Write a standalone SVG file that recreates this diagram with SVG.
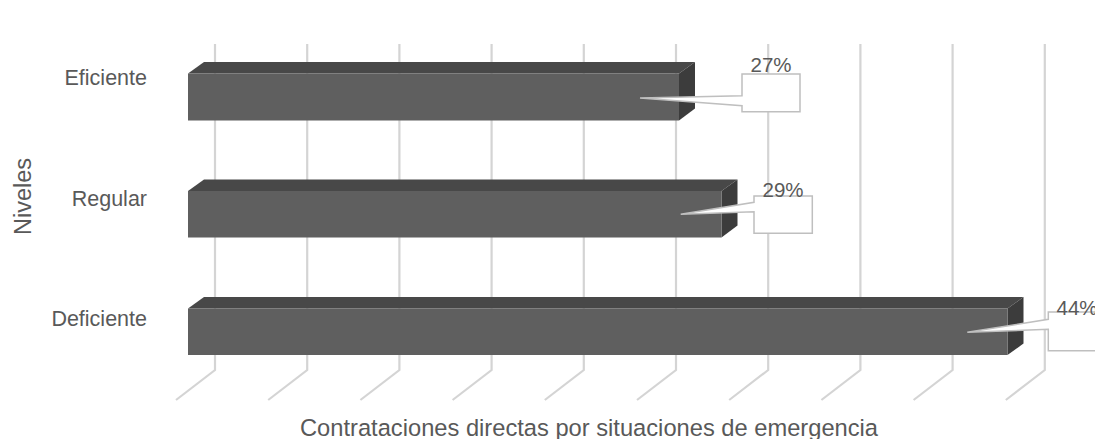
<svg xmlns="http://www.w3.org/2000/svg" width="1095" height="439" viewBox="0 0 1095 439">
<style>
.grid{fill:none;stroke:#d4d4d4;stroke-width:2.2}
.front{fill:#5f5f5f}
.top{fill:#484848}
.side{fill:#3c3c3c}
.callout{fill:#ffffff;stroke:#bfbfbf;stroke-width:1.5;stroke-linejoin:miter}
.lbl{font-family:"Liberation Sans",Arial,sans-serif;fill:#595959}
.tick{font-size:21.5px;text-anchor:end}
.pct{font-size:20.5px;text-anchor:middle}
</style>
<rect width="1095" height="439" fill="#ffffff"/>
<g id="gridlines">
<path class="grid" d="M215,44V370L176,400"/>
<path class="grid" d="M307.2,44V370L268.2,400"/>
<path class="grid" d="M399.4,44V370L360.4,400"/>
<path class="grid" d="M491.6,44V370L452.6,400"/>
<path class="grid" d="M583.8,44V370L544.8,400"/>
<path class="grid" d="M676,44V370L637,400"/>
<path class="grid" d="M768.2,44V370L729.2,400"/>
<path class="grid" d="M860.4,44V370L821.4,400"/>
<path class="grid" d="M952.6,44V370L913.6,400"/>
<path class="grid" d="M1044.8,44V370L1005.8,400"/>
</g>
<g id="bar-eficiente">
<polygon class="top" points="188,73.5 204,62 695,62 679,73.5"/>
<polygon class="side" points="679,73.5 695,62 695,108.5 679,120.5"/>
<rect class="front" x="188" y="73.5" width="491" height="47"/>
</g>
<g id="bar-regular">
<polygon class="top" points="188,191 204,179.5 737.5,179.5 721.5,191"/>
<polygon class="side" points="721.5,191 737.5,179.5 737.5,225.5 721.5,237.5"/>
<rect class="front" x="188" y="191" width="533.5" height="46.5"/>
</g>
<g id="bar-deficiente">
<polygon class="top" points="188,308.5 204,297 1023.5,297 1007.5,308.5"/>
<polygon class="side" points="1007.5,308.5 1023.5,297 1023.5,343.5 1007.5,355"/>
<rect class="front" x="188" y="308.5" width="819.5" height="46.5"/>
</g>
<g id="connectors">
<path class="callout" d="M742,74H800V111.7H742V105.7L640,98L742,95.7Z"/>
<path class="callout" d="M754,196H812.3V233.3H754V211.7L680.7,214.3L754,202.3Z"/>
<path class="callout" d="M1048.3,312H1106.3V350.7H1048.3V329.3L967.3,332.3L1048.3,319.3Z"/>
</g>
<g id="label-eficiente"><text class="lbl tick" x="147" y="85">Eficiente</text><text class="lbl pct" x="771" y="72.3">27%</text></g>
<g id="label-regular"><text class="lbl tick" x="147" y="205.7">Regular</text><text class="lbl pct" x="783" y="196.7">29%</text></g>
<g id="label-deficiente"><text class="lbl tick" x="147" y="325.7">Deficiente</text><text class="lbl pct" x="1077" y="315">44%</text></g>
<g id="axis-titles">
<text class="lbl" x="30.5" y="196.5" font-size="23.5" text-anchor="middle" transform="rotate(-90 30.5 196.5)">Niveles</text>
<text class="lbl" x="300" y="436" font-size="23.7">Contrataciones directas por situaciones de emergencia</text>
</g>
</svg>
